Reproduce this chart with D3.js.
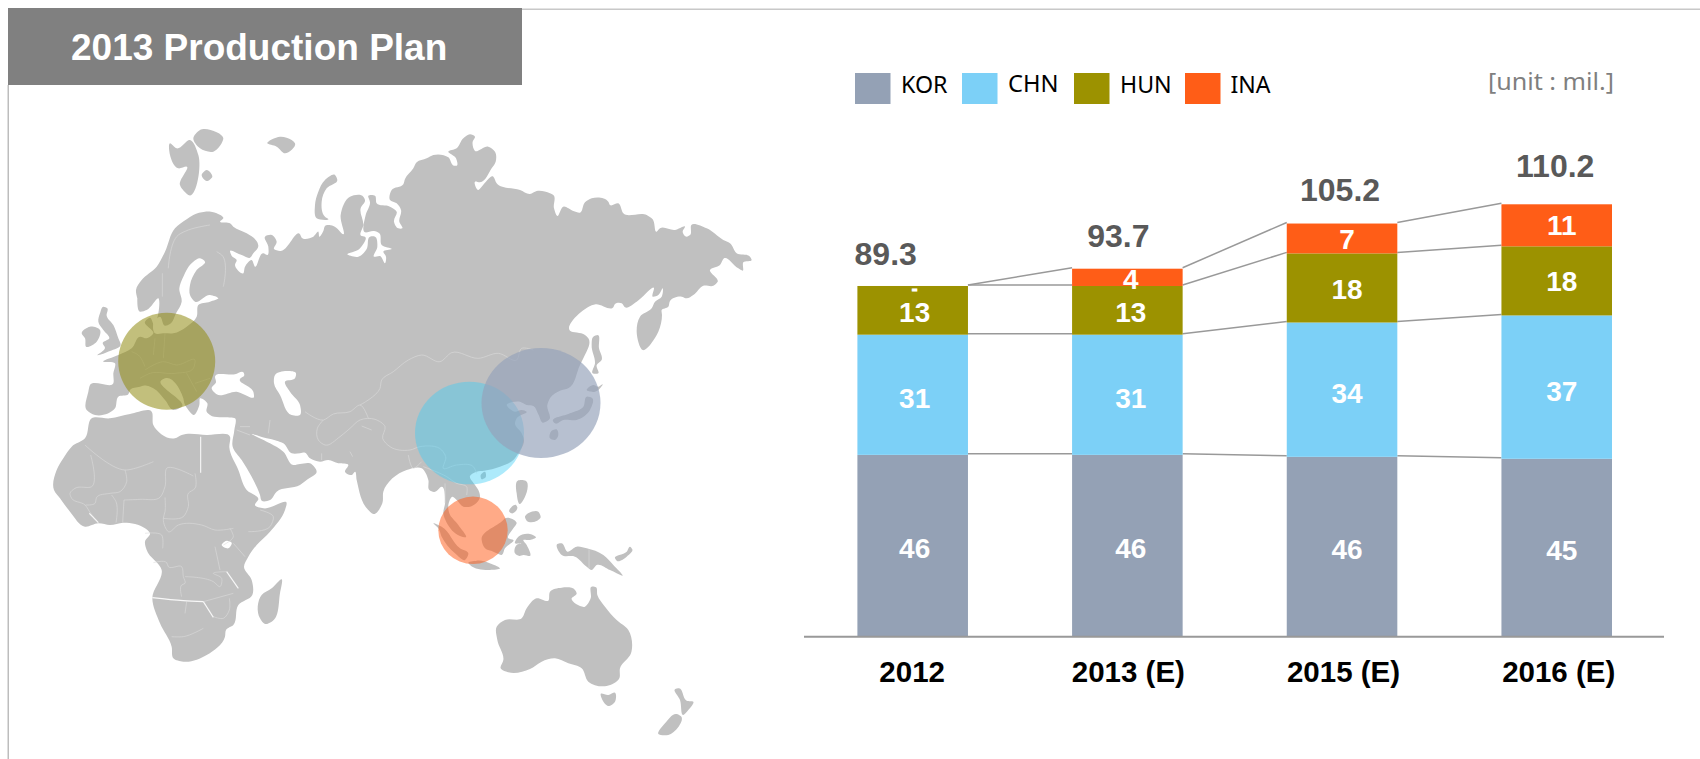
<!DOCTYPE html>
<html>
<head>
<meta charset="utf-8">
<script src="https://cdn.jsdelivr.net/npm/d3@7/dist/d3.min.js"></script>
<style>
html,body{margin:0;padding:0;background:#fff}
svg{display:block}
text{font-family:"Liberation Sans",Arial,sans-serif}
.leg{font-family:"Noto Sans",sans-serif}
</style>
</head>
<body>
<svg id="c" width="1700" height="759"></svg>
<script>
// ---------- chart data ----------
const categories = ["2012", "2013 (E)", "2015 (E)", "2016 (E)"];
const kor = [46.3, 46.3, 45.8, 45.3];
const chn = [30.6, 30.6, 34.2, 36.5];
const hun = [12.4, 12.4, 17.6, 17.6];
const ina = [0, 4.4, 7.6, 10.7];
const totals = [89.3, 93.7, 105.2, 110.2];
const korLabels = ["46", "46", "46", "45"];
const chnLabels = ["31", "31", "34", "37"];
const hunLabels = ["13", "13", "18", "18"];
const inaLabels = ["-", "4", "7", "11"];
const seriesNames = ["KOR", "CHN", "HUN", "INA"];
const seriesColors = ["#94A1B5", "#7CD0F7", "#9C9200", "#FF5D17"];
const hubs = [
  {name:"HUN", color:"#8F8A10", op:.55},
  {name:"CHN", color:"#3CCDF5", op:.42},
  {name:"KOR", color:"#95A2BA", op:.68},
  {name:"INA", color:"#FF5C19", op:.52}
];

// ---------- base-map outlines, traced per crop [originX, originY, x,y at 3x ...] ----------
const eurasia = [
 [50,125,[262,520,258,495,275,465,320,425,345,380,375,310,410,283,430,270,465,260,500,265,520,280,510,290,540,295,550,305,590,325,622,352,625,362,610,385,600,398,575,390,540,378,545,392,560,405,555,420,580,445,585,425,605,405,615,425,640,385,652,390,655,365,645,335,665,330,680,350,672,372,690,378,750,328]],
 [300,125,[5,338,40,335,55,320,58,335,70,318,75,303,100,303,130,328,122,270,150,215,190,215,195,225,182,250,190,300,183,332,195,335,178,372,142,388,175,395,200,372,210,335,225,335,232,365,222,395,240,393,255,415,258,395,250,380,275,372,245,360,238,325,222,318,195,322,197,270,210,232,205,212,225,212,230,235,270,245,290,260,282,290,295,310,307,310,298,290,303,255,290,235,270,225,275,195,310,178,315,162,340,130,350,112,380,100,400,90,445,97,462,122,470,122,468,100,445,80,470,70,490,40,510,28,525,35,518,50,525,78,565,65,585,80,587,110,575,130,540,172,525,170,535,195,545,185,580,155,590,175,660,195,690,207,710,198,750,205]],
 [530,125,[70,210,72,250,82,273,100,245,130,258,150,263,165,232,185,220,235,230,240,240,265,235,280,265,350,270,368,283,380,320,390,310,435,315,465,305,458,320,470,335,480,330,484,300,530,310,580,345,600,355,620,385,660,395,665,405,640,412,638,437,625,430,582,400,570,420,540,435,563,470,550,482,520,482,490,510,470,520,455,515,420,528,415,545,395,555,396,570,385,620,338,675,320,620,330,575,365,550,375,530,395,515,398,490,385,510,368,515,372,490,320,530,285,547,275,535,255,537,250,547,197,538,120,617,165,630,175,640,160,700,150,720,115,790,90,797]],
 [300,340,[752,172,742,195,748,238,728,248,716,225,700,198,680,195,660,185,620,195,645,215,665,210,680,215,650,235,645,250,665,280,672,300,655,340,640,360,600,380,552,392,530,395,510,408,525,435,535,450,540,470,510,500,490,500,470,480,458,470,445,495,448,520,475,555,497,592,480,588,440,548,430,520,435,490,425,440,402,456,388,450,385,420,365,385,320,390,250,455,247,490,220,522,205,510,170,420,165,395,155,405,135,395,145,375,115,370,85,360,60,365,30,355,15,338,0,340]],
 [50,410,[725,130,700,100,680,92,650,85,605,72,660,100,700,125,730,165,750,162,780,160,800,185,770,210,750,225,680,245,660,270,635,272,630,255,605,200,575,150,548,110,553,60,555,25,530,22,480,15,470,5]],
 [50,125,[472,835,450,820,448,840,430,870,415,855,403,835,400,820,345,760,335,765,395,845,370,855,345,825,310,790,290,782,270,785,240,795,235,808,205,815,195,850,135,870,110,855,115,800,120,780,190,775,190,745,195,715,160,710,205,690,245,670,270,635,290,640,310,625,285,590,300,578,312,600,325,565,325,520,290,555,270,560,262,520]]
];
const islands = [
 [50,125,[360,55,380,70,420,45,445,90,415,210,390,180,410,125,385,130,360,90]],
 [50,125,[430,40,450,15,520,40,490,80,450,70]],
 [50,125,[470,135,487,155,470,168,455,150]],
 [50,125,[652,55,690,35,725,45,735,55,705,85,680,65]],
 [50,125,[160,545,172,550,170,572,190,600,205,640,212,660,180,678,142,690,165,668,158,655,178,640,160,615,145,590,150,565]],
 [50,125,[95,625,120,605,150,615,140,650,108,665,105,640]],
 [300,125,[105,150,112,165,80,190,65,230,75,275,85,282,50,280,45,240,55,200,75,165]],
 [530,125,[203,630,207,670,215,705,200,720,205,745,188,745,195,715,185,660,190,635]],
 [530,125,[170,795,190,780,205,785,218,778,205,795,195,800]],
 [530,125,[170,815,187,820,180,855,140,885,100,885,75,895,70,890,120,865,160,845]],
 [300,340,[755,272,770,268,775,285,765,300,750,295]],
 [300,340,[542,405,555,395,557,412,545,418]],
 [50,410,[695,508,690,550,665,635,645,642,630,625,635,555,665,535]],
 [50,410,[125,25,180,25,240,12,305,5,310,45,375,85,395,75,470,75,540,80,538,112,565,180,590,240,625,268,615,285,640,295,710,280,705,300,660,365,620,405,595,440,582,470,605,510,607,555,565,585,550,645,528,660,525,680,470,735,400,755,370,745,365,710,330,640,307,565,335,480,290,420,285,395,300,370,285,355,220,338,180,345,145,340,105,350,60,305,30,265,12,240,20,180,40,145,65,110,105,85]],
 [480,430,[113,152,137,152,130,210,120,222,110,190]],
 [480,430,[88,245,108,225,112,232,95,250]],
 [480,430,[135,262,175,245,182,262,165,275,140,272]],
 [480,430,[115,320,150,312,168,322,150,330,130,330,140,345,150,378,130,375,118,378,105,370,110,345,125,340,105,340]],
 [300,340,[615,535,650,550,640,565,625,595,640,600,615,625,605,645,590,640,580,635,555,625,545,600,610,540]],
 [300,340,[400,550,425,560,480,625,505,640,495,660,465,640,425,590,415,565]],
 [300,340,[505,670,530,662,575,672,600,685,570,690,510,675]],
 [480,430,[232,342,245,340,262,365,290,350,320,355,370,375,400,405,428,437,390,420,350,405,335,420,320,410,285,380,245,375]],
 [480,430,[405,385,440,365,450,350,457,358,440,380,410,392]],
 [480,430,[50,590,75,570,125,565,140,535,170,505,205,512,210,485,245,473,285,480,290,490,275,505,315,530,332,505,335,470,348,472,352,495,375,530,410,570,445,600,453,670,420,715,418,745,380,768,325,755,305,715,265,700,225,685,185,695,150,717,85,727,62,715,70,690,52,630]],
 [480,430,[362,792,385,795,405,788,405,815,385,828,365,805]],
 [480,430,[585,778,597,775,620,812,640,815,625,840,610,855,600,810]],
 [480,430,[590,852,602,858,565,915,535,912,555,880]]
];
const seas = [
 [50,125,[315,625,312,590,330,575,345,602,360,597,378,565,395,530,388,490,400,455,430,410,450,400,465,410,440,435,420,480,420,510,435,530,480,510,505,520,480,530,445,540,440,575,410,605,370,625,345,625]],
 [50,125,[495,755,555,748,580,742,583,750,570,762,610,800,612,815,560,800,500,808,485,790,498,772]],
 [50,125,[675,750,710,738,738,745,735,760,705,770,720,800,750,840,750,870,725,870,690,810,672,775]],
 [50,410,[515,405,530,392,545,398,535,415]]
];
const borders = [
 [50,410,[105,105,225,180,310,155]],[50,410,[225,180,230,215,210,245,180,250,140,262,135,280,107,285]],
 [50,410,[122,135,125,230,75,235,60,250,65,265,105,285,122,310,143,335]],[50,410,[185,255,198,275,198,338]],[50,410,[222,270,218,338]],
 [50,410,[222,270,270,268,330,262,345,230,350,175,430,198]],[50,410,[345,262,345,305,340,325,345,350,355,365,385,345,455,345,495,360,550,355]],
 [50,410,[435,190,435,235,415,250,415,290,400,320,340,325]],[50,410,[540,355,550,380,520,405]],[50,410,[495,410,510,480]],[50,410,[550,400,585,440]],
 [50,410,[595,365,660,350,670,320,630,300]],[50,410,[285,370,335,375,338,415]],[50,410,[310,458,350,458,355,470,395,470,400,500,405,520,395,525,395,560]],
 [50,410,[405,500,490,515,510,530,515,505,490,490,530,485]],[50,410,[460,575,550,550]],[50,410,[538,565,538,600,520,625,490,620]],[50,410,[410,575,405,610]],[50,410,[365,680,400,680,460,655]],
 [50,410,[560,60,600,75]],[50,410,[660,30,655,70]],[50,410,[570,50,600,50]],
 [50,125,[355,430,385,330,415,315,480,300]],[50,125,[337,445,337,515]],[50,125,[520,485,515,390,500,380]],
 [50,125,[245,680,265,690,285,725]],[50,125,[285,735,340,710,380,720,435,705,430,730,375,745,300,745,270,760]],[50,125,[345,625,340,700]],[50,125,[315,640,310,690]],[50,125,[410,745,440,800]],[50,125,[435,775,480,760]],
 [300,340,[15,215,70,240,100,222,150,215,180,195,205,235]],
 [300,340,[70,240,52,265,55,300,75,315,120,290,150,265,180,240,225,238,255,260,248,295,270,320,330,330,360,320,425,330,437,350,430,385,470,375,520,380,530,400]],
 [300,340,[180,195,240,145,245,120,280,95,325,60,365,45,420,65,455,38,535,55,595,40,650,60,665,25,700,30]],
 [300,340,[65,340,65,360]],[300,340,[150,335,158,350]],[300,340,[185,258,215,270]],[300,340,[325,345,340,385,365,365]],
 [300,340,[370,380,440,410,470,430,500,440,500,465]],[300,340,[435,430,435,490]],[480,430,[327,358,327,415]]
];
const strongBorders = [
 [50,410,[452,80,452,188]],[50,410,[307,563,400,572,460,575]],[50,410,[460,575,490,622]],[50,410,[530,485,565,535]],[50,410,[118,310,145,338]]
];

// ---------- helpers ----------
const svg = d3.select("#c");
const toPts = ([x0,y0,f]) => d3.range(0,f.length,2).map(i => [x0+f[i]/3, y0+f[i+1]/3]);
const closed = d3.line().curve(d3.curveCatmullRomClosed.alpha(1));
const open = d3.line().curve(d3.curveCatmullRom.alpha(1));

// ---------- page frame ----------
svg.append("rect").attr("x",7.5).attr("y",85).attr("width",1.5).attr("height",674).attr("fill","#bdbdbd");
svg.append("rect").attr("x",522).attr("y",8.5).attr("width",1178).attr("height",1.5).attr("fill","#c8c8c8");
svg.append("rect").attr("x",8).attr("y",8).attr("width",514).attr("height",77).attr("fill","#808080");
svg.append("text").attr("x",71).attr("y",60).attr("fill","#fff").attr("font-size",37).attr("font-weight","bold").text("2013 Production Plan");

// ---------- map ----------
const map = svg.append("g").attr("class","map");
map.append("path").attr("d",closed(eurasia.flatMap(toPts))).attr("fill","#c0c0c0");
map.selectAll("path.isl").data(islands).join("path").attr("class","isl").attr("d",d=>closed(toPts(d))).attr("fill","#c0c0c0");
map.selectAll("path.sea").data(seas).join("path").attr("class","sea").attr("d",d=>closed(toPts(d))).attr("fill","#fff");
map.selectAll("path.bd").data(borders).join("path").attr("class","bd").attr("d",d=>open(toPts(d))).attr("fill","none").attr("stroke","#dcdcdc").attr("stroke-width",.6);
map.selectAll("path.sbd").data(strongBorders).join("path").attr("class","sbd").attr("d",d=>open(toPts(d))).attr("fill","none").attr("stroke","#f8f8f8").attr("stroke-width",1.1);

const hubGeom = {HUN:[166.7,361.3,48.5,48.5],CHN:[469.5,433,54.5,51.3],KOR:[541,403,59.5,55],INA:[473,530.3,34.7,33.7]};
map.selectAll("ellipse").data(hubs).join("ellipse")
  .attr("cx",d=>hubGeom[d.name][0]).attr("cy",d=>hubGeom[d.name][1])
  .attr("rx",d=>hubGeom[d.name][2]).attr("ry",d=>hubGeom[d.name][3])
  .attr("fill",d=>d.color).attr("fill-opacity",d=>d.op);

// ---------- stacked bars ----------
const x = d3.scaleBand().domain(categories).range([857.4,1612]).paddingInner(.485).paddingOuter(0);
const y = d3.scaleLinear().domain([0,110.2]).range([636.7,203.9]);
const table = categories.map((c,i)=>({cat:c,KOR:kor[i],CHN:chn[i],HUN:hun[i],INA:ina[i]}));
const stacked = d3.stack().keys(seriesNames)(table);
const color = d3.scaleOrdinal(seriesNames,seriesColors);
const labelsBy = {KOR:korLabels,CHN:chnLabels,HUN:hunLabels,INA:inaLabels};

// connector lines between stack boundaries
const conn = d3.line();
const connectors = svg.append("g");
stacked.forEach(s=>{
  for(let i=0;i<categories.length-1;i++){
    connectors.append("path")
      .attr("d",conn([[x(categories[i])+x.bandwidth(), y(s[i][1])-1],[x(categories[i+1]), y(s[i+1][1])-1]]))
      .attr("fill","none").attr("stroke","#999").attr("stroke-width",1.5);
  }
});

const bars = svg.append("g");
bars.selectAll("g").data(stacked).join("g").attr("fill",s=>color(s.key))
  .selectAll("rect").data(s=>s).join("rect")
  .attr("x",d=>x(d.data.cat)).attr("width",x.bandwidth())
  .attr("y",d=>y(d[1])).attr("height",d=>y(d[0])-y(d[1]));

// value labels
const labelDx = [2,3.5,5,5];
const upperDy = [0,0,-1,-2];
const lab = svg.append("g").attr("text-anchor","middle").attr("fill","#fff").attr("font-weight","bold").attr("font-size",28);
stacked.forEach(s=>{
  s.forEach((d,i)=>{
    const ymid=(y(d[0])+y(d[1]))/2, t=labelsBy[s.key][i], dash=t==="-";
    const off=s.key==="CHN"?13.5:12+((s.key==="HUN"||s.key==="INA")?upperDy[i]:0);
    const node=lab.append("text").attr("x",x(d.data.cat)+x.bandwidth()/2+labelDx[i]).attr("y",dash?ymid+8:ymid+off).text(t);
    if(dash) node.attr("font-size",17).attr("stroke","#fff").attr("stroke-width",1);
  });
});

// totals
const totalDx=[-27,-9,-2,-1.5], totalDy=[-21,-22,-22.6,-26.6];
svg.append("g").attr("text-anchor","middle").attr("fill","#595959").attr("font-weight","bold").attr("font-size",32)
  .selectAll("text").data(totals).join("text")
  .attr("x",(d,i)=>x(categories[i])+x.bandwidth()/2+totalDx[i])
  .attr("y",d=>y(d)+0)
  .attr("dy",(d,i)=>totalDy[i])
  .text(d=>d.toFixed(1));

// axis
const tickDx = [-0.5,1,1.5,2];
const ax = svg.append("g").attr("transform","translate(0,636.7)")
  .call(d3.axisBottom(x).tickSize(0).tickPadding(24));
ax.select(".domain").remove();
ax.append("line").attr("x1",804).attr("x2",1664).attr("stroke","#999").attr("stroke-width",2);
ax.selectAll(".tick text").attr("font-family",'"Liberation Sans",Arial,sans-serif').attr("font-size",29.5).attr("font-weight","bold").attr("fill","#000").attr("dx",(d,i)=>tickDx[i]);

// legend
const legX=[855,962,1074,1185], legTx=[901,1008,1120,1230.5], legTy=[93.3,92,93,93], legW=[46.5,50.5,51.7,40];
const leg = svg.append("g");
seriesNames.forEach((n,i)=>{
  leg.append("rect").attr("x",legX[i]).attr("y",73).attr("width",35.5).attr("height",31).attr("fill",seriesColors[i]);
  leg.append("text").attr("class","leg").attr("x",legTx[i]).attr("y",legTy[i]).attr("font-size",24).attr("fill","#000")
    .attr("textLength",legW[i]).attr("lengthAdjust","spacingAndGlyphs").text(n);
});
svg.append("text").attr("class","leg").attr("x",1488).attr("y",90).attr("font-size",24).attr("fill","#7f7f7f")
  .attr("textLength",126).attr("lengthAdjust","spacingAndGlyphs").text("[unit : mil.]");
</script>
</body>
</html>
